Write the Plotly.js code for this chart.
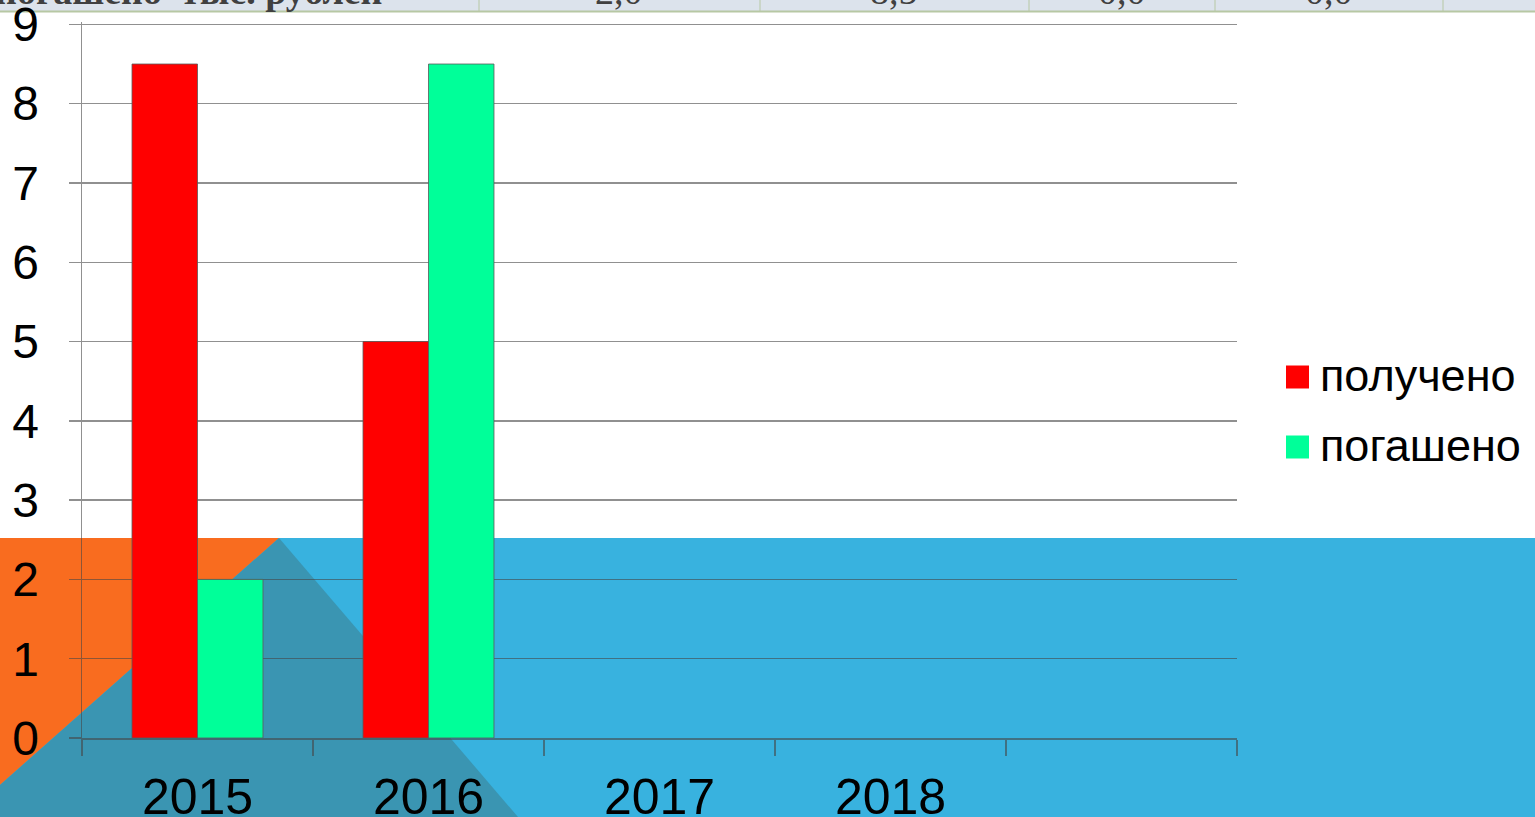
<!DOCTYPE html>
<html>
<head>
<meta charset="utf-8">
<script src="https://cdn.plot.ly/plotly-3.0.1.min.js"></script>
<style>html,body{margin:0;padding:0;background:#fff;}#chart{width:1535px;height:817px;}</style>
</head>
<body>
<div id="chart"></div>
<script>
// ---- data ----
const categories = ["2015", "2016", "2017", "2018", " "];
const received = [8.5, 5, 0, 0, null];   // получено
const repaid = [2, 8.5, 0, 0, null];     // погашено
const seriesNames = ["получено", "погашено"];
const seriesColors = ["#FF0000", "#00FF99"];
const yTicks = [0, 1, 2, 3, 4, 5, 6, 7, 8, 9];
const tableLabel = "погашено  тыс. рублей";
const tableValues = ["2,0", "8,5", "0,0", "0,0"];

// ---- geometry helpers (pixel -> paper) ----
const W = 1535, H = 817;
const L = 82, R = 1237, T = 22, B = 738;
const px = x => (x - L) / (R - L);
const py = y => (B - y) / (B - T);

const shapes = [];
// background blue band
shapes.push({type: 'rect', xref: 'paper', yref: 'paper', layer: 'below',
  x0: px(0), x1: px(W), y0: py(538), y1: py(H), fillcolor: '#38B2DF', line: {width: 0}});
// orange triangle
shapes.push({type: 'path', xref: 'paper', yref: 'paper', layer: 'below',
  path: `M${px(0)},${py(538)} L${px(279)},${py(538)} L${px(0)},${py(785)} Z`,
  fillcolor: '#F96C1F', line: {width: 0}});
// dark teal triangle
shapes.push({type: 'path', xref: 'paper', yref: 'paper', layer: 'below',
  path: `M${px(279)},${py(538)} L${px(518)},${py(H)} L${px(0)},${py(H)} L${px(0)},${py(785)} Z`,
  fillcolor: '#3A95B2', line: {width: 0}});
// top table strip
shapes.push({type: 'rect', xref: 'paper', yref: 'paper', layer: 'below',
  x0: px(0), x1: px(W), y0: py(-2), y1: py(11), fillcolor: '#DCE3EC', line: {width: 0}});
shapes.push({type: 'line', xref: 'paper', yref: 'paper', layer: 'below',
  x0: px(0), x1: px(W), y0: py(11.5), y1: py(11.5), line: {color: '#B7C8A4', width: 2}});
[479, 760, 1029, 1215, 1443].forEach(x => shapes.push({type: 'line', xref: 'paper', yref: 'paper', layer: 'below',
  x0: px(x), x1: px(x), y0: py(0), y1: py(11), line: {color: '#B7C8A4', width: 1}}));
// legend squares
const legY = [377, 447];
seriesColors.forEach((c, i) => shapes.push({type: 'rect', xref: 'paper', yref: 'paper',
  x0: px(1286), x1: px(1309), y0: py(legY[i] - 11.5), y1: py(legY[i] + 11.5),
  fillcolor: c, line: {width: 0}}));

const annotations = [];
seriesNames.forEach((n, i) => annotations.push({xref: 'paper', yref: 'paper', x: px(1318), y: py(legY[i] - 1),
  xanchor: 'left', yanchor: 'middle', showarrow: false, text: n,
  font: {family: 'Liberation Sans, Arial, sans-serif', size: 45, color: '#000'}}));
annotations.push({xref: 'paper', yref: 'paper', x: px(384), y: py(14), xanchor: 'right', yanchor: 'bottom',
  showarrow: false, text: '<b>' + tableLabel + '</b>',
  font: {family: 'Liberation Serif, Times New Roman, serif', size: 38, color: '#404040'}});
const cellCenters = [619, 894, 1122, 1329];
tableValues.forEach((v, i) => annotations.push({xref: 'paper', yref: 'paper', x: px(cellCenters[i]), y: py(14),
  xanchor: 'center', yanchor: 'bottom', showarrow: false, text: v,
  font: {family: 'Liberation Serif, Times New Roman, serif', size: 38, color: '#404040'}}));

const gridCol = 'rgba(70,70,70,0.6)';
const traces = [received, repaid].map((vals, i) => ({
  type: 'bar', x: categories, y: vals, name: seriesNames[i],
  marker: {color: seriesColors[i],
    line: {color: 'rgba(90,90,90,0.8)', width: vals.map(v => (v ? 1 : 0))}},
  hoverinfo: 'skip'
}));

const layout = {
  width: W, height: H, autosize: false,
  margin: {l: L, r: W - R, t: T, b: H - B, pad: 0},
  paper_bgcolor: '#ffffff', plot_bgcolor: 'rgba(0,0,0,0)',
  showlegend: false, barmode: 'group', bargap: 0.433, bargroupgap: 0,
  font: {family: 'Liberation Sans, Arial, sans-serif', color: '#000'},
  xaxis: {type: 'category', range: [-0.5, 4.5], tickson: 'boundaries', ticks: 'outside', ticklen: 16,
    tickcolor: gridCol, tickwidth: 1.5, showline: true, linecolor: gridCol, linewidth: 1.5, showgrid: false,
    tickfont: {size: 50, color: '#000'}, ticklabelstandoff: 14, ticklabeloverflow: 'allow', fixedrange: true},
  yaxis: {range: [0, 9.03], tickmode: 'array', tickvals: yTicks, ticktext: yTicks.map(String),
    ticks: 'outside', ticklen: 12, tickcolor: gridCol, tickwidth: 1.5,
    showline: true, linecolor: gridCol, linewidth: 1.5, gridcolor: gridCol, gridwidth: 1.5, zeroline: false,
    tickfont: {size: 48, color: '#000'}, ticklabelstandoff: 20, ticklabeloverflow: 'allow', fixedrange: true},
  shapes: shapes, annotations: annotations
};

Plotly.newPlot('chart', traces, layout, {displayModeBar: false, staticPlot: true});
</script>
</body>
</html>
